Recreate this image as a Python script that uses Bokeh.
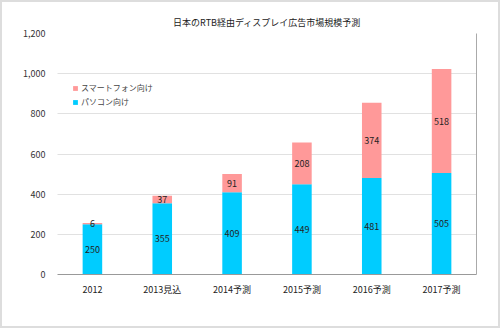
from bokeh.plotting import figure
from bokeh.models import ColumnDataSource, LabelSet, Legend, LegendItem, LinearAxis, NumeralTickFormatter, Range1d, FixedTicker
from bokeh.core.properties import value
from bokeh.embed import file_html
from bokeh.resources import INLINE

categories = ["2012", "2013見込", "2014予測", "2015予測", "2016予測", "2017予測"]
pc = [250, 355, 409, 449, 481, 505]
smartphone = [6, 37, 91, 208, 374, 518]
title = "日本のRTB経由ディスプレイ広告市場規模予測"
series_names = ["パソコン向け", "スマートフォン向け"]
colors = ["#00CCFF", "#FF9999"]

FONT = "Noto Sans CJK JP"

src = ColumnDataSource(dict(
    cat=categories, pc=pc, sp=smartphone,
    pc_mid=[v / 2 for v in pc],
    sp_mid=[a + b / 2 for a, b in zip(pc, smartphone)],
    pc_txt=[str(v) for v in pc],
    sp_txt=[str(v) for v in smartphone],
))

p = figure(width=500, height=328, x_range=categories, y_range=Range1d(0, 1200),
           output_backend="svg", toolbar_location=None,
           min_border_left=55, min_border_right=26, min_border_top=31, min_border_bottom=56)
p.outline_line_color = None
p.background_fill_color = "white"
p.border_fill_color = "white"

r = p.vbar_stack(["pc", "sp"], x="cat", width=0.28, color=colors, source=src, line_color=None)

p.title.text = title
p.title.align = "center"
p.title.text_font = FONT
p.title.text_font_size = "9px"
p.title.text_font_style = "normal"
p.title.text_color = "#222222"
p.title.offset = 12

p.yaxis.ticker = [0, 200, 400, 600, 800, 1000, 1200]
p.yaxis.formatter = NumeralTickFormatter(format="0,0")
p.yaxis.axis_line_color = None
p.yaxis.major_tick_line_color = None
p.yaxis.minor_tick_line_color = None
p.yaxis.major_label_text_font = FONT
p.yaxis.major_label_text_font_size = "9px"
p.yaxis.major_label_text_color = "#333333"
p.yaxis.major_label_standoff = 6

p.xaxis.axis_line_color = "#999999"
p.xaxis.major_tick_line_color = None
p.xaxis.major_label_text_font = FONT
p.xaxis.major_label_text_font_size = "9px"
p.xaxis.major_label_text_color = "#222222"
p.xaxis.major_label_standoff = 2

p.xgrid.grid_line_color = None
p.ygrid.grid_line_color = "#aaaaaa"
p.ygrid.grid_line_dash = "1 1"
p.ygrid.grid_line_alpha = 0.7

right = LinearAxis(ticker=FixedTicker(ticks=[]), major_tick_line_color=None,
                   minor_tick_line_color=None, axis_line_color="#aaaaaa")
p.add_layout(right, "right")

for col, ycol in (("pc_txt", "pc_mid"), ("sp_txt", "sp_mid")):
    p.add_layout(LabelSet(x="cat", y=ycol, text=col, source=src, text_align="center",
                          text_baseline="middle", text_font=value(FONT),
                          text_font_size="9px", text_color="#222222"))

legend = Legend(items=[LegendItem(label=series_names[1], renderers=[r[1]]),
                       LegendItem(label=series_names[0], renderers=[r[0]])],
                location=(15, 167), label_text_font=FONT, label_text_font_size="8px",
                glyph_width=6, glyph_height=6, label_height=10, spacing=3,
                border_line_color=None, background_fill_alpha=0, padding=4,
                label_standoff=3)
p.add_layout(legend, "center")

p.styles = {"border": "2px solid #dddddd", "box-sizing": "border-box"}

open("out.html", "w").write(file_html(p, INLINE))
